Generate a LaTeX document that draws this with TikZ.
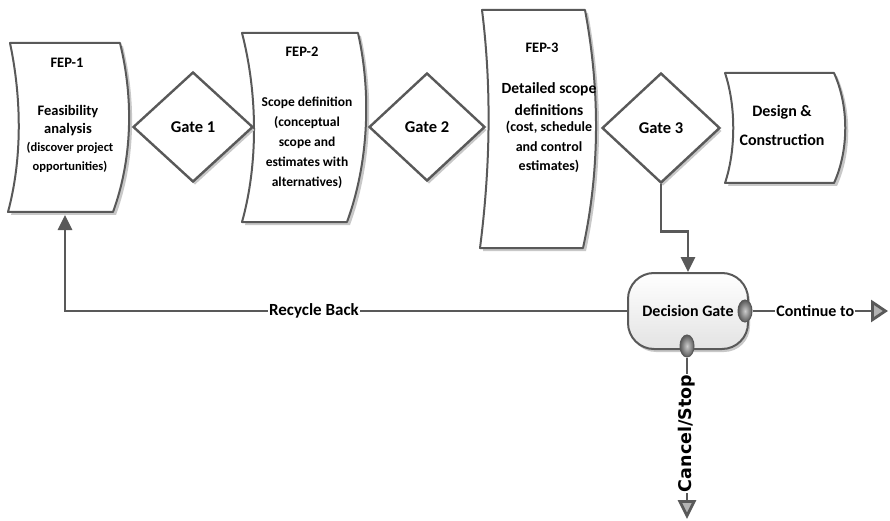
\documentclass[tikz,border=0pt]{standalone}
\usepackage{fontspec}
\setmainfont{Carlito}
\newfontfamily\dejavu{DejaVu Sans}
\usetikzlibrary{shapes.geometric,arrows.meta,shadows}
\definecolor{ln}{HTML}{595959}
\definecolor{shd}{HTML}{C8C8C8}
\begin{document}
\begin{tikzpicture}[x=1pt,y=-1pt,
  fepbox/.style={draw=ln,line width=2pt,fill=white,line join=round,
    drop shadow={shadow xshift=3pt,shadow yshift=-3pt,fill=shd,opacity=1}},
  gate/.style={diamond,draw=ln,line width=2.4pt,fill=white,inner sep=0pt,
    font=\fontsize{16.5}{20}\selectfont\bfseries,
    drop shadow={shadow xshift=2pt,shadow yshift=-3pt,fill=shd,opacity=1}},
  conn/.style={draw=ln,line width=2.8pt},
  darrow/.style={-{Triangle[length=15pt,width=14pt,fill=ln]}},
  garrow/.style={-{Triangle[length=17pt,width=22pt,fill=gray!60]}},
  lbl/.style={fill=white,inner sep=1pt,font=\fontsize{16}{19}\selectfont\bfseries},
  port/.style={ellipse,draw=ln,line width=1pt,inner sep=0pt,minimum width=14pt,minimum height=22pt,
    inner color=gray!40,outer color=gray!70!black},
  ttl/.style={font=\fontsize{14.5}{17}\selectfont\bfseries},
]
\useasboundingbox (0,0) rectangle (890,521);

% FEP-1
\path[fepbox] (10,43) -- (120,43) .. controls (134,100) and (132,160) .. (113,212)
  -- (8,212) .. controls (22,160) and (22,100) .. (10,43) -- cycle;
\node[ttl] (f1t) at (67,63) {FEP-1};
\node[align=center,font=\fontsize{14.5}{18}\selectfont\bfseries] (f1a) at (68,121) {Feasibility\\analysis};
\node[align=center,font=\fontsize{12.5}{19}\selectfont\bfseries] (f1b) at (70,157) {(discover project\\opportunities)};
\coordinate (fep1b) at (65,215);

% FEP-2
\path[fepbox] (242,33) -- (358,33) .. controls (372,95) and (368,165) .. (347,222)
  -- (242,222) .. controls (258,165) and (258,95) .. (242,33) -- cycle;
\node[ttl] (f2t) at (302,52) {FEP-2};
\node[align=center,font=\fontsize{13.5}{20}\selectfont\bfseries] (f2a) at (307,143)
  {Scope definition\\(conceptual\\scope and\\estimates with\\alternatives)};

% FEP-3
\path[fepbox] (482,10) -- (585,10) .. controls (600,90) and (600,170) .. (583,248)
  -- (480,248) .. controls (490,170) and (492,90) .. (482,10) -- cycle;
\node[ttl] (f3t) at (542,48) {FEP-3};
\node[align=center,font=\fontsize{15.5}{22}\selectfont\bfseries] (f3a) at (549,99) {Detailed scope\\definitions};
\node[align=center,font=\fontsize{14}{19.5}\selectfont\bfseries] (f3b) at (549,147) {(cost, schedule\\and control\\estimates)};

% Design & Construction
\path[fepbox] (725,73) -- (834,73) .. controls (849,106) and (849,150) .. (834,183)
  -- (725,183) .. controls (736,150) and (736,106) .. (725,73) -- cycle;
\node[align=center,font=\fontsize{16}{29}\selectfont\bfseries] (dc) at (782,125) {Design \&\\Construction};

% Gates
\node[gate,minimum width=120pt,minimum height=110pt] (g1) at (193,127) {Gate 1};
\node[gate,minimum width=116pt,minimum height=108pt] (g2) at (427,127) {Gate 2};
\node[gate,minimum width=118pt,minimum height=110pt] (g3) at (661,128) {Gate 3};

% Decision gate
\node[draw=ln,line width=2pt,rounded corners=26pt,minimum width=120pt,minimum height=76pt,
  top color=white,bottom color=gray!22,
  drop shadow={shadow xshift=2pt,shadow yshift=-3pt,fill=shd,opacity=1},
  font=\fontsize{16}{19}\selectfont\bfseries] (dg) at (688,311) {Decision Gate};
\node[port] (pr) at (745,311) {};
\node[port] (pb) at (687,346) {};

\coordinate (cont) at (888,311);
\coordinate (stop) at (687,519);

% connectors
\draw[conn,darrow] (g3.south) -- ++(0,47) -| (dg.north);
\draw[conn,darrow] (dg.west) -- node[lbl,pos=0.557,font=\fontsize{17}{20}\selectfont\bfseries] {Recycle Back} (dg.west -| fep1b) -- (fep1b);
\draw[conn,garrow] (pr.east) -- node[lbl,pos=0.463] {Continue to} (cont);
\draw[conn,-{Triangle[length=19pt,width=18pt,fill=gray!60]}] (pb.south) -- node[lbl,pos=0.47,rotate=90,font=\dejavu\fontsize{17.5}{20}\selectfont\bfseries] {Cancel/Stop} (stop);
\end{tikzpicture}
\end{document}
